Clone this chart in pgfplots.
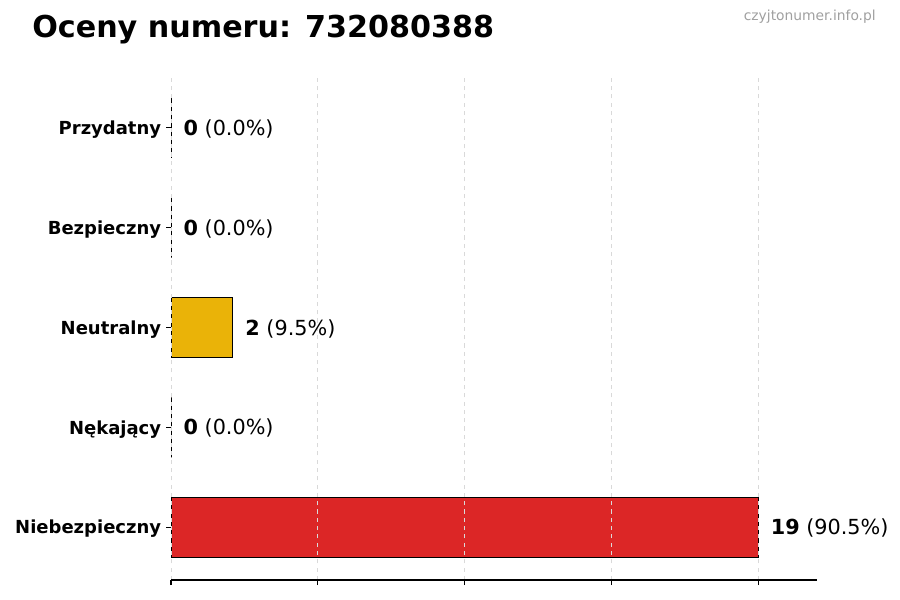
\documentclass[border=0pt]{standalone}
\usepackage{pgfplots}
\pgfplotsset{compat=1.18}
\usepackage{fontspec}
\setmainfont{DejaVu Sans}
\definecolor{barred}{HTML}{DC2626}
\definecolor{baryellow}{HTML}{EAB308}
\definecolor{gridgray}{HTML}{D9D9D9}
\definecolor{markgray}{HTML}{A0A0A0}

\begin{document}
\begin{tikzpicture}
\path[use as bounding box] (0,0) rectangle (9in,6in);
\node[anchor=west,inner sep=0pt,font=\fontsize{21.8}{25}\selectfont\bfseries] at (0.32in,5.70in) {Oceny numeru: 732080388};
\node[anchor=east,inner sep=0pt,font=\fontsize{10}{12}\selectfont,text=markgray] at (8.76in,5.83in) {czyjtonumer.info.pl};
\begin{axis}[
  at={(1.71in,0.20in)}, anchor=south west,
  scale only axis, width=6.46in, height=5.05in,
  xmin=0, xmax=20.9, ymin=-0.53, ymax=4.53,
  xbar, bar width=0.6in, bar shift=0pt,
  axis on top,
  axis x line*=bottom, axis y line*=left,
  y axis line style={draw=none},
  x axis line style={-, black, line width=0.8pt},
  xtick={0,4.75,9.5,14.25,19}, xticklabels={},
  ytick={0,1,2,3,4},
  yticklabels={Niebezpieczny,Nękający,Neutralny,Bezpieczny,Przydatny},
  yticklabel style={font=\fontsize{13}{15}\selectfont\bfseries, yshift=-0.02in},
  tick align=outside, major tick length=0.05in,
  tick style={black, line width=0.8pt},
  xmajorgrids, grid style={gridgray, dashed, line width=0.6pt},
  nodes near coords,
  point meta=explicit symbolic,
  every node near coord/.append style={anchor=west, xshift=0.075in, yshift=-0.01in,
    font=\fontsize{15}{18}\selectfont, text=black},
]
\addplot[fill=barred, draw=black, line width=0.75pt] coordinates {
  (19,0) [\textbf{19} (90.5\%)]
};
\addplot[fill=barred, draw=black, line width=0.75pt] coordinates {
  (0,1) [\textbf{0} (0.0\%)]
};
\addplot[fill=baryellow, draw=black, line width=0.75pt] coordinates {
  (2,2) [\textbf{2} (9.5\%)]
};
\addplot[fill=barred, draw=black, line width=0.75pt] coordinates {
  (0,3) [\textbf{0} (0.0\%)]
  (0,4) [\textbf{0} (0.0\%)]
};
\end{axis}
\end{tikzpicture}
\end{document}
